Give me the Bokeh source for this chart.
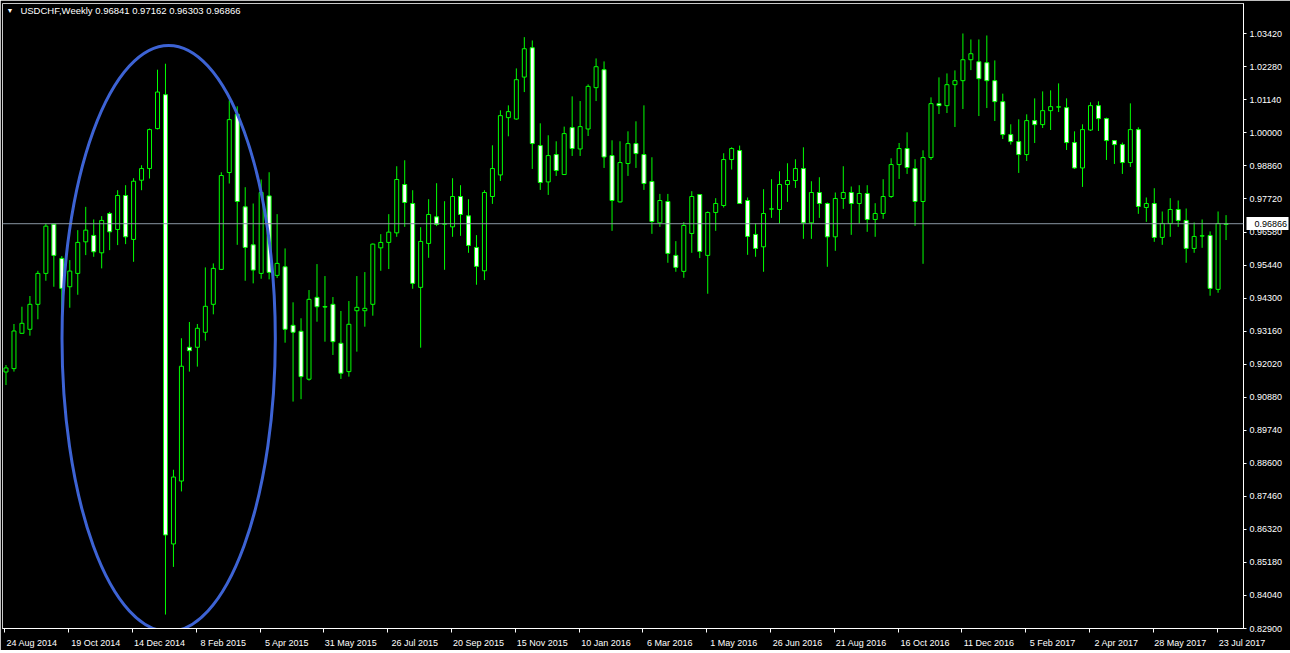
from bokeh.plotting import figure
from bokeh.models import (Range1d, FixedTicker, PrintfTickFormatter, Span, Label,
                          ColumnDataSource, LinearAxis)
from bokeh.embed import file_html
from bokeh.resources import INLINE

# ---------------- data ----------------
symbol = "USDCHF,Weekly"
last_bar = [0.96841, 0.97162, 0.96303, 0.96866]  # O H L C of last bar

opens = [0.9175, 0.91866, 0.93085, 0.93223, 0.94085, 0.95152, 0.96851, 0.95669, 0.94691, 0.95152,
         0.96241, 0.96462, 0.95862, 0.97219, 0.96668, 0.97840, 0.96324, 0.98367, 0.98769, 1.00147,
         1.01318, 0.85818, 0.87988, 0.92603, 0.92603, 0.93120, 0.94085, 0.95290, 0.98632, 1.00640,
         0.97448, 0.96138, 0.95152, 0.97826, 0.95083, 0.95380, 0.93361, 0.93155, 0.91501, 0.94326,
         0.94010, 0.94085, 0.92741, 0.91763, 0.93864, 0.93864, 0.94085, 0.96034, 0.96221, 0.96551,
         0.98219, 0.97564, 0.94670, 0.96186, 0.97103, 0.96851, 0.96758, 0.97805, 0.97137, 0.96048,
         0.95242, 0.97805, 0.98549, 1.00526, 1.00478, 1.01925, 1.02938, 0.99562, 0.98308, 0.99252,
         0.98563, 1.00182, 0.99445, 1.00134, 1.01560, 1.02180, 0.99217, 0.97619, 0.98942, 0.99631,
         0.99252, 0.98322, 0.96896, 0.97633, 0.95773, 0.95222, 0.96530, 0.97874, 0.95773, 0.97254,
         0.97495, 0.99080, 0.99390, 0.97667, 0.96496, 0.96069, 0.97370, 0.97357, 0.98219, 0.98357,
         0.98769, 0.96896, 0.97943, 0.97564, 0.96414, 0.97736, 0.97943, 0.97564, 0.97909, 0.97013,
         0.97219, 0.97805, 0.98907, 0.99459, 0.98769, 0.97633, 0.99148, 1.01009, 1.00940, 1.01663,
         1.01801, 1.02524, 1.02455, 1.02421, 1.01801, 1.01078, 0.99941, 0.99700, 0.99252, 1.00423,
         1.00285, 1.00767, 1.00890, 1.00871, 0.99665, 0.98790, 1.00099, 1.00940, 1.00492, 0.99734,
         0.99596, 0.98976, 1.00113, 0.97426, 0.97564, 0.96393, 0.96875, 0.97357, 0.96979, 0.96014,
         0.96440, 0.96462, 0.94601, 0.96841]
highs = [0.9199, 0.93406, 0.94002, 0.94371, 0.95242, 0.96874, 0.96870, 0.95749, 0.95611, 0.96644,
         0.97448, 0.97013, 0.97127, 0.97274, 0.98022, 0.98195, 0.98436, 0.98883, 1.00147, 1.02180,
         1.02386, 0.88377, 0.92914, 0.93475, 0.93406, 0.95359, 0.95497, 0.98642, 1.01122, 1.00916,
         0.98126, 0.97564, 0.98391, 0.98642, 0.97196, 0.96014, 0.94154, 0.93603, 0.94577, 0.95473,
         0.95060, 0.94336, 0.93854, 0.94198, 0.95060, 0.95197, 0.96186, 0.96506, 0.97196, 0.98849,
         0.99055, 0.98022, 0.96747, 0.97712, 0.98264, 0.97643, 0.98436, 0.98195, 0.97712, 0.96472,
         0.98022, 0.99572, 1.00778, 1.00950, 1.02225, 1.03303, 1.03189, 1.00330, 0.99917, 0.99710,
         1.00216, 1.01260, 1.01098, 1.01673, 1.02569, 1.02466, 0.99744, 0.99710, 1.00054, 1.00399,
         1.00950, 0.99159, 0.97895, 0.97895, 0.96265, 0.96920, 0.97988, 0.97890, 0.97289, 0.97747,
         0.99297, 0.99503, 0.99562, 0.97771, 0.96875, 0.98057, 0.98401, 0.98677, 0.98952, 0.99090,
         0.99503, 0.98332, 0.98470, 0.97599, 0.97943, 0.98849, 0.98150, 0.98195, 0.98195, 0.97574,
         0.98401, 0.99124, 0.99651, 1.00020, 0.99090, 0.99400, 1.01226, 1.01915, 1.02052, 1.02156,
         1.03430, 1.03224, 1.03224, 1.03361, 1.02500, 1.01353, 1.00296, 1.00468, 1.00640, 1.01191,
         1.01432, 1.01467, 1.01708, 1.01191, 1.00054, 1.00296, 1.01054, 1.01088, 1.00526, 0.99750,
         0.99665, 1.01019, 1.00193, 0.97771, 0.98091, 0.97288, 0.97747, 0.97667, 0.97391, 0.96910,
         0.97013, 0.96600, 0.97288, 0.97162]
lows = [0.9130, 0.91763, 0.93070, 0.93003, 0.93568, 0.94898, 0.94691, 0.93637, 0.93967, 0.94415,
        0.95783, 0.95725, 0.95325, 0.95955, 0.96128, 0.96162, 0.95552, 0.98022, 0.98425, 1.00120,
        0.83381, 0.85025, 0.87629, 0.91763, 0.91935, 0.92831, 0.93740, 0.95266, 0.98253, 0.96138,
        0.94898, 0.94808, 0.94967, 0.94946, 0.94991, 0.92761, 0.90729, 0.90812, 0.91453, 0.93485,
        0.92796, 0.92338, 0.91511, 0.91590, 0.92452, 0.93313, 0.93692, 0.95242, 0.95301, 0.96414,
        0.96758, 0.94622, 0.92589, 0.95690, 0.96782, 0.95276, 0.96414, 0.96448, 0.95862, 0.94760,
        0.94922, 0.97550, 0.98343, 0.99882, 1.00457, 1.01408, 0.98756, 0.98032, 0.97860, 0.98515,
        0.98550, 0.99204, 0.99204, 0.99892, 1.01098, 0.98790, 0.96620, 0.97600, 0.98515, 0.98790,
        0.98032, 0.96517, 0.96758, 0.95518, 0.95208, 0.95001, 0.95862, 0.95680, 0.94450, 0.96620,
        0.97426, 0.98735, 0.97550, 0.95793, 0.95725, 0.95208, 0.97068, 0.96875, 0.97619, 0.98101,
        0.96344, 0.96344, 0.97068, 0.95380, 0.95931, 0.97378, 0.96482, 0.96875, 0.96586, 0.96414,
        0.97034, 0.97757, 0.98411, 0.98584, 0.96792, 0.95483, 0.99066, 1.00650, 1.00685, 1.00203,
        1.00823, 1.02166, 1.00581, 1.00857, 1.00409, 0.99789, 0.99596, 0.98618, 0.99031, 0.99651,
        1.00168, 1.00099, 1.00719, 0.99410, 0.98756, 0.98136, 1.00065, 1.00065, 0.99066, 0.98928,
        0.98584, 0.98825, 0.97206, 0.96930, 0.96241, 0.96138, 0.96414, 0.96758, 0.95518, 0.95862,
        0.96034, 0.94381, 0.94484, 0.96303]
closes = [0.9189, 0.93165, 0.93430, 0.94085, 0.95152, 0.96782, 0.95773, 0.94635, 0.95232, 0.96221,
          0.96644, 0.95897, 0.96979, 0.96586, 0.97840, 0.96414, 0.98332, 0.98769, 1.00113, 1.01409,
          0.86128, 0.88125, 0.91949, 0.92486, 0.93258, 0.94016, 0.95325, 0.98529, 1.00457, 0.97633,
          0.96048, 0.95266, 0.97943, 0.95187, 0.95497, 0.93223, 0.93120, 0.91590, 0.94257, 0.94002,
          0.93990, 0.92796, 0.91707, 0.93396, 0.93981, 0.93947, 0.96162, 0.96221, 0.96575, 0.98391,
          0.97599, 0.94808, 0.96255, 0.97185, 0.96841, 0.96860, 0.97805, 0.97185, 0.96117, 0.95394,
          0.97943, 0.98769, 1.00595, 1.00733, 1.01835, 1.02903, 0.99631, 0.98287, 0.99217, 0.98701,
          0.99975, 0.99459, 1.00216, 1.01605, 1.02283, 0.99169, 0.97667, 0.98976, 0.99631, 0.99286,
          0.98253, 0.96944, 0.97667, 0.95841, 0.95359, 0.96806, 0.97805, 0.95910, 0.97254, 0.97564,
          0.99080, 0.99459, 0.97564, 0.96427, 0.96014, 0.97219, 0.97380, 0.98219, 0.98357, 0.98769,
          0.96896, 0.97943, 0.97564, 0.96414, 0.97736, 0.97943, 0.97564, 0.97909, 0.97013, 0.97219,
          0.97805, 0.98907, 0.99459, 0.98804, 0.97633, 0.99148, 1.01009, 1.00940, 1.01663, 1.01801,
          1.02524, 1.02731, 1.01870, 1.01801, 1.01078, 0.99941, 0.99700, 0.99252, 1.00423, 1.00285,
          1.00767, 1.00905, 1.00900, 0.99665, 0.98790, 1.00113, 1.00940, 1.00492, 0.99734, 0.99596,
          0.98976, 1.00113, 0.97461, 0.97564, 0.96393, 0.96875, 0.97357, 0.96979, 0.96014, 0.96427,
          0.96450, 0.94635, 0.96875, 0.96866]

# weekly date labels (every 8th bar, first bar = 24 Aug 2014)
date_labels = ["24 Aug 2014", "19 Oct 2014", "14 Dec 2014", "8 Feb 2015", "5 Apr 2015",
               "31 May 2015", "26 Jul 2015", "20 Sep 2015", "15 Nov 2015", "10 Jan 2016",
               "6 Mar 2016", "1 May 2016", "26 Jun 2016", "21 Aug 2016", "16 Oct 2016",
               "11 Dec 2016", "5 Feb 2017", "2 Apr 2017", "28 May 2017", "23 Jul 2017"]
date_every = 8

price_ticks = [0.82900, 0.84040, 0.85180, 0.86320, 0.87460, 0.88600, 0.89740, 0.90880,
               0.92020, 0.93160, 0.94300, 0.95440, 0.96580, 0.97720, 0.98860, 1.00000,
               1.01140, 1.02280, 1.03420]

# highlight ellipse (bar index / price units)
ell_x, ell_y, ell_w, ell_h = 20.4, 0.92907, 26.75, 0.2022

# ---------------- layout ----------------
GREEN = "#00ff00"
FONT = "Liberation Sans"
FS = "9px"
BAR_PX = 8.0                 # pixels per weekly bar
FRAME_W, FRAME_H = 1245, 626
X_START = -0.4375            # bar centres fall on pixel centres -> crisp 1px lines
X_END = X_START + FRAME_W / BAR_PX
Y_START, Y_END = 0.829, 1.04464

n = len(opens)
idx = list(range(n))
bull = [c >= o for o, c in zip(opens, closes)]
bx = [i for i in idx if bull[i]]
rx = [i for i in idx if not bull[i]]
src_bull = ColumnDataSource(dict(x=bx, top=[closes[i] for i in bx], bottom=[opens[i] for i in bx]))
src_bear = ColumnDataSource(dict(x=rx, top=[opens[i] for i in rx], bottom=[closes[i] for i in rx]))

p = figure(width=1290, height=650, x_range=Range1d(X_START, X_END), y_range=Range1d(Y_START, Y_END),
           output_backend="svg", toolbar_location=None, y_axis_location="right",
           background_fill_color="black", border_fill_color="black",
           min_border_left=2, min_border_right=1290 - 2 - FRAME_W, min_border_top=3,
           min_border_bottom=650 - 3 - FRAME_H,
           outline_line_color="#c8c8c8")
p.xgrid.visible = False
p.ygrid.visible = False

# wicks
p.segment(x0=idx, y0=lows, x1=idx, y1=highs, line_color=GREEN, line_width=1)
# bodies
p.vbar(x="x", top="top", bottom="bottom", width=0.5, source=src_bull,
       fill_color="black", line_color=GREEN, line_width=1)
p.vbar(x="x", top="top", bottom="bottom", width=0.5, source=src_bear,
       fill_color="white", line_color=GREEN, line_width=1)

# current price line
p.add_layout(Span(location=closes[-1], dimension="width", line_color="#8a96a3", line_width=1))

# ellipse highlight
p.ellipse(x=[ell_x], y=[ell_y], width=[ell_w], height=[ell_h], fill_color=None,
          line_color="#3d63d4", line_width=3)

# header
p.add_layout(Label(x=0.5, y=1.04223, text="\u25bc", text_font=FONT, text_font_size="7px",
                   text_color="white", text_align="center", text_baseline="middle"))
hdr = "%s  %.5f %.5f %.5f %.5f" % (symbol, last_bar[0], last_bar[1], last_bar[2], last_bar[3])
p.add_layout(Label(x=1.81, y=1.04223, text=hdr, text_font=FONT, text_font_size="9.5px",
                   text_color="white", text_align="left", text_baseline="middle"))

# right price axis
ya = p.yaxis[0]
ya.ticker = FixedTicker(ticks=price_ticks)
ya.formatter = PrintfTickFormatter(format="%.5f")
ya.major_label_text_font = FONT
ya.major_label_text_font_size = FS
ya.major_label_text_color = "white"
ya.axis_line_color = "white"
ya.major_tick_line_color = "white"
ya.major_tick_out = 3
ya.major_tick_in = 0
ya.minor_tick_line_color = None
ya.major_label_standoff = 3

# current price marker on the price scale: a second, zero-width axis outside the first one
# whose single (inward) tick draws the white box and whose label sits back inside it
mark = LinearAxis(ticker=FixedTicker(ticks=[closes[-1]], minor_ticks=[closes[-1]]),
                  formatter=PrintfTickFormatter(format="%.5f"))
mark.axis_line_color = None
mark.major_tick_line_color = None
mark.major_tick_out = 0
mark.major_tick_in = 0
mark.minor_tick_line_color = "white"
mark.minor_tick_line_width = 13
mark.minor_tick_in = 39
mark.minor_tick_out = 3
mark.major_label_text_font = FONT
mark.major_label_text_font_size = FS
mark.major_label_text_color = "black"
mark.major_label_standoff = -34
p.add_layout(mark, "right")

# bottom date axis: labels start right of the tick, like the terminal
date_idx = list(range(0, n, date_every))[:len(date_labels)]
lab_ticks = [min(i + 3.25, 155.0) for i in date_idx]
xa = p.xaxis[0]
xa.ticker = FixedTicker(ticks=lab_ticks, minor_ticks=[i - 0.125 for i in date_idx])
xa.major_label_overrides = {t: s for t, s in zip(lab_ticks, date_labels)}
xa.major_label_text_font = FONT
xa.major_label_text_font_size = FS
xa.major_label_text_color = "white"
xa.axis_line_color = "white"
xa.major_tick_line_color = None
xa.major_tick_out = 0
xa.major_tick_in = 0
xa.minor_tick_line_color = "white"
xa.minor_tick_out = 4
xa.minor_tick_in = 0
xa.major_label_standoff = 5

open("out.html", "w").write(file_html(p, INLINE))
